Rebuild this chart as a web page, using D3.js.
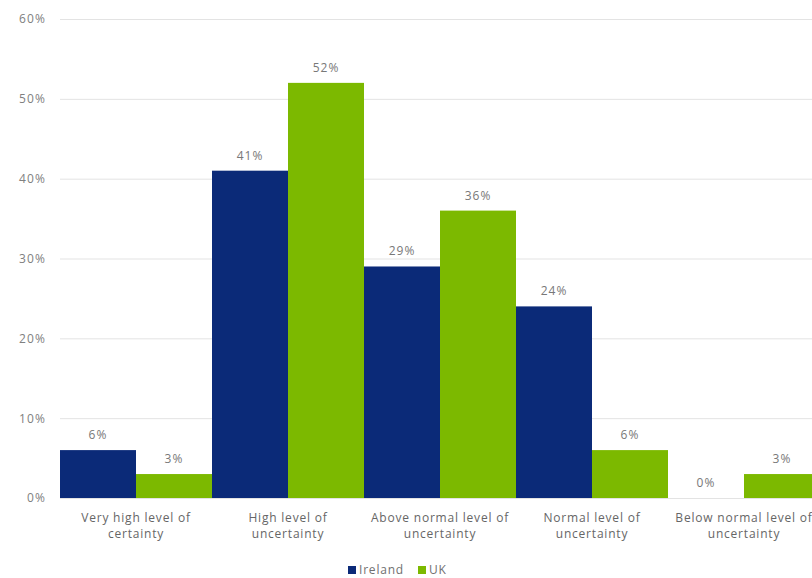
<!DOCTYPE html>
<html>
<head>
<meta charset="utf-8">
<script src="https://cdn.jsdelivr.net/npm/d3@7"></script>
<style>
  html, body { margin: 0; padding: 0; background: #ffffff; }
  svg { display: block; }
  text { font-family: "Open Sans", "Liberation Sans", sans-serif; }
</style>
</head>
<body>
<div id="chart"></div>
<script>
// Survey responses: perceived level of uncertainty, Ireland vs UK
const categories = [
  ["Very high level of", "certainty"],
  ["High level of", "uncertainty"],
  ["Above normal level of", "uncertainty"],
  ["Normal level of", "uncertainty"],
  ["Below normal level of", "uncertainty"]
];
const seriesNames = ["Ireland", "UK"];
const irelandValues = [6, 41, 29, 24, 0];
const ukValues = [3, 52, 36, 6, 3];
const yTicks = [0, 10, 20, 30, 40, 50, 60];

const colors = { Ireland: "#0b2a78", UK: "#7cb900" };

const W = 812, H = 578;
const margin = { left: 60, right: -8, top: 19, bottom: 80 };

const svg = d3.select("#chart").append("svg")
  .attr("width", W).attr("height", H);

const catKeys = categories.map(c => c.join(" "));
const x0 = d3.scaleBand()
  .domain(catKeys)
  .range([margin.left, W - margin.right])
  .paddingInner(0).paddingOuter(0);
const x1 = d3.scaleBand()
  .domain(seriesNames)
  .range([0, x0.bandwidth()])
  .padding(0);
const y = d3.scaleLinear()
  .domain([0, 60])
  .range([H - margin.bottom, margin.top]);

// Gridlines and y tick labels
const yAxis = d3.axisLeft(y)
  .tickValues(yTicks)
  .tickFormat(d => d + "%")
  .tickSize(-(W - margin.left))
  .tickPadding(14);
const gy = svg.append("g")
  .attr("transform", `translate(${margin.left},0)`)
  .call(yAxis);
gy.select(".domain").remove();
gy.selectAll(".tick line").attr("stroke", "#e3e3e3").attr("stroke-width", 1);
gy.selectAll(".tick text")
  .attr("fill", "#808080")
  .style("font-size", "12px")
  .style("letter-spacing", "1.1px");

// Bars
const rows = catKeys.map((k, i) => ({
  key: k,
  values: [
    { name: "Ireland", value: irelandValues[i] },
    { name: "UK", value: ukValues[i] }
  ]
}));

const groups = svg.append("g").selectAll("g")
  .data(rows).join("g")
  .attr("transform", d => `translate(${x0(d.key)},0)`);

groups.selectAll("rect")
  .data(d => d.values).join("rect")
  .attr("x", d => x1(d.name))
  .attr("width", x1.bandwidth())
  .attr("y", d => y(d.value))
  .attr("height", d => y(0) - y(d.value))
  .attr("fill", d => colors[d.name]);

// Value labels
groups.selectAll("text.val")
  .data(d => d.values).join("text")
  .attr("class", "val")
  .attr("x", d => x1(d.name) + x1.bandwidth() / 2)
  .attr("y", d => y(d.value) - 11)
  .attr("text-anchor", "middle")
  .attr("fill", "#787878")
  .style("font-size", "12px")
  .style("letter-spacing", "1px")
  .text(d => d.value + "%");

// Category labels (two lines)
const catLabels = svg.append("g").selectAll("text")
  .data(categories).join("text")
  .attr("x", (d, i) => x0(catKeys[i]) + x0.bandwidth() / 2)
  .attr("y", y(0) + 24)
  .attr("text-anchor", "middle")
  .attr("fill", "#666666")
  .style("font-size", "12px")
  .style("letter-spacing", "0.8px");
catLabels.selectAll("tspan")
  .data(d => d).join("tspan")
  .attr("x", function () { return d3.select(this.parentNode).attr("x"); })
  .attr("dy", (d, i) => i === 0 ? 0 : 16)
  .text(d => d);

// Legend
const legend = svg.append("g").attr("transform", "translate(348,574)");
const legendX = [0, 70];
seriesNames.forEach((name, i) => {
  const g = legend.append("g").attr("transform", `translate(${legendX[i]},0)`);
  g.append("rect").attr("x", 0).attr("y", -8).attr("width", 8).attr("height", 8)
    .attr("fill", colors[name]);
  g.append("text").attr("x", 11).attr("y", 0)
    .attr("fill", "#707070")
    .style("font-size", "12px")
    .style("letter-spacing", "0.8px")
    .text(name);
});
</script>
</body>
</html>
